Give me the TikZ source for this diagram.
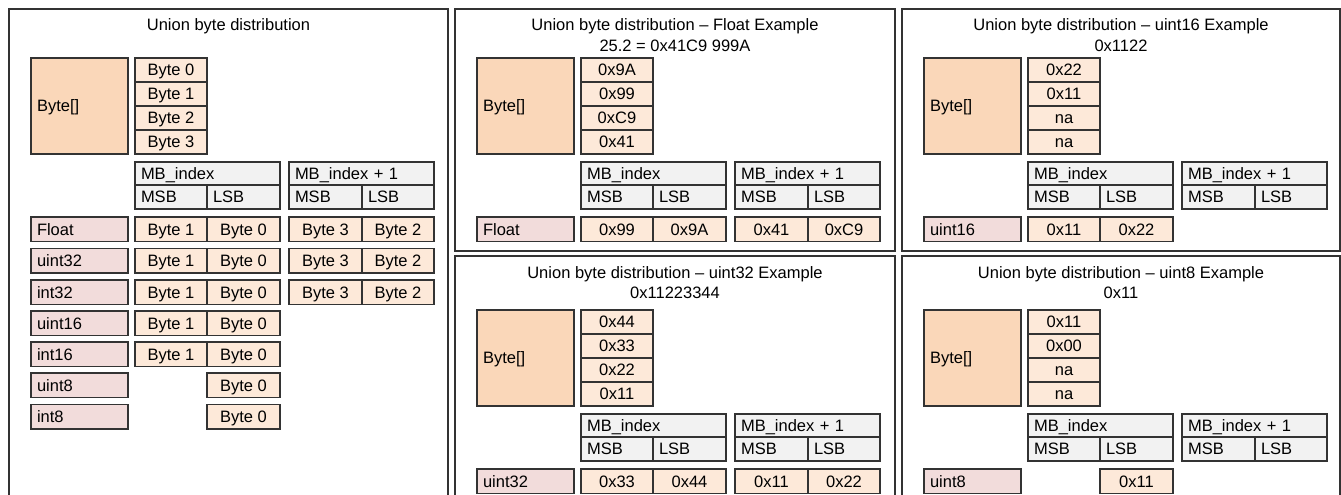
\documentclass[tikz,border=0pt]{standalone}
\usepackage{fontspec}
\setmainfont{Liberation Sans}
\definecolor{bigc}{HTML}{FAD7B9}
\definecolor{cellc}{HTML}{FDE9D9}
\definecolor{labc}{HTML}{F2DCDB}
\definecolor{hdrc}{HTML}{F2F2F2}
\definecolor{linec}{HTML}{333333}
\tikzset{
 every node/.style={font=\fontsize{16.5}{19}\selectfont, inner sep=0pt, outer sep=0pt, text height=11.8pt, text depth=0pt},
 boxbase/.style={draw=linec, line width=1.3pt},
 bigbox/.style={boxbase, fill=bigc},
 valbox/.style={boxbase, fill=cellc},
 labbox/.style={boxbase, fill=labc},
 hdrbox/.style={boxbase, fill=hdrc},
 panelframe/.style={draw=linec, line width=1.1pt},
}
% centered cell: name, x1, y1, x2, y2, style, text
\newcommand{\cb}[7]{%
 \pgfmathsetmacro{\cbw}{#4-#2}\pgfmathsetmacro{\cbh}{#5-#3}%
 \node[#6, minimum width=\cbw pt, minimum height=\cbh pt, anchor=north west] (#1) at (#2,#3) {#7};}
% left aligned cell
\newcommand{\cbl}[7]{%
 \pgfmathsetmacro{\cbw}{#4-#2}\pgfmathsetmacro{\cbh}{#5-#3}\pgfmathsetmacro{\cbt}{#4-#2-12}%
 \node[#6, minimum width=\cbw pt, minimum height=\cbh pt, anchor=north west, inner xsep=6pt, text width=\cbt pt, align=left] (#1) at (#2,#3) {#7};}
% common panel content
\newcommand{\pcontent}[5]{%
 \cbl{#1big}{31}{58}{128}{154}{bigbox}{Byte[]}%
 \cb{#1va}{135}{58}{207}{82}{valbox}{#2}%
 \cb{#1vb}{135}{82}{207}{106}{valbox}{#3}%
 \cb{#1vc}{135}{106}{207}{130}{valbox}{#4}%
 \cb{#1vd}{135}{130}{207}{154}{valbox}{#5}%
 \cbl{#1h}{135}{162}{280}{185}{hdrbox}{MB\_index}%
 \cbl{#1hm}{135}{185}{207}{209}{hdrbox}{MSB}%
 \cbl{#1hl}{207}{185}{280}{209}{hdrbox}{LSB}%
 \cbl{#1k}{289}{162}{434}{185}{hdrbox}{MB\_index + 1}%
 \cbl{#1km}{289}{185}{362}{209}{hdrbox}{MSB}%
 \cbl{#1kl}{362}{185}{434}{209}{hdrbox}{LSB}%
}
% full row: prefix, y1, label, a, b, c, d
\newcommand{\fullrow}[7]{%
 \pgfmathsetmacro{\ry}{#2+24.5}%
 \cbl{#1l}{31}{#2}{128}{\ry}{labbox}{#3}%
 \cb{#1a}{135}{#2}{207}{\ry}{valbox}{#4}%
 \cb{#1b}{207}{#2}{280}{\ry}{valbox}{#5}%
 \cb{#1c}{289}{#2}{362}{\ry}{valbox}{#6}%
 \cb{#1d}{362}{#2}{434}{\ry}{valbox}{#7}%
}
\newcommand{\halfrow}[5]{%
 \pgfmathsetmacro{\ry}{#2+24.5}%
 \cbl{#1l}{31}{#2}{128}{\ry}{labbox}{#3}%
 \cb{#1a}{135}{#2}{207}{\ry}{valbox}{#4}%
 \cb{#1b}{207}{#2}{280}{\ry}{valbox}{#5}%
}
\newcommand{\onerow}[4]{%
 \pgfmathsetmacro{\ry}{#2+24.5}%
 \cbl{#1l}{31}{#2}{128}{\ry}{labbox}{#3}%
 \cb{#1b}{207}{#2}{280}{\ry}{valbox}{#4}%
}
\begin{document}
\begin{tikzpicture}[x=1pt,y=-1pt]
\useasboundingbox (0,0) rectangle (1341,495);
\fill[white] (0,0) rectangle (1341,495);
\clip (0,0) rectangle (1341,495);
% frames
\draw[panelframe] (9,9) rectangle (448,530);
\draw[panelframe] (455,9) rectangle (895,251);
\draw[panelframe] (902,9) rectangle (1340,251);
\draw[panelframe] (455,256) rectangle (895,530);
\draw[panelframe] (902,256) rectangle (1340,530);
% titles
\node (t1) at (228.5,24.5) {Union byte distribution};
\node (t2) at (675,24.5) {Union byte distribution – Float Example};
\node (t2b) at (675,46) {25.2 = 0x41C9 999A};
\node (t3) at (1121,24.5) {Union byte distribution – uint16 Example};
\node (t3b) at (1121,46) {0x1122};
\node (t4) at (675,272.5) {Union byte distribution – uint32 Example};
\node (t4b) at (675,293) {0x11223344};
\node (t5) at (1121,272.5) {Union byte distribution – uint8 Example};
\node (t5b) at (1121,293) {0x11};
% panel 1
\pcontent{A}{Byte 0}{Byte 1}{Byte 2}{Byte 3}
\fullrow{Ar1}{217}{Float}{Byte 1}{Byte 0}{Byte 3}{Byte 2}
\fullrow{Ar2}{248.5}{uint32}{Byte 1}{Byte 0}{Byte 3}{Byte 2}
\fullrow{Ar3}{280}{int32}{Byte 1}{Byte 0}{Byte 3}{Byte 2}
\halfrow{Ar4}{311}{uint16}{Byte 1}{Byte 0}
\halfrow{Ar5}{342}{int16}{Byte 1}{Byte 0}
\onerow{Ar6}{373}{uint8}{Byte 0}
\onerow{Ar7}{404.5}{int8}{Byte 0}
% panel 2
\begin{scope}[shift={(446,0)}]
\pcontent{B}{0x9A}{0x99}{0xC9}{0x41}
\fullrow{Br1}{217}{Float}{0x99}{0x9A}{0x41}{0xC9}
\end{scope}
% panel 3
\begin{scope}[shift={(893,0)}]
\pcontent{C}{0x22}{0x11}{na}{na}
\halfrow{Cr1}{217}{uint16}{0x11}{0x22}
\end{scope}
% panel 4
\begin{scope}[shift={(446,252)}]
\pcontent{D}{0x44}{0x33}{0x22}{0x11}
\fullrow{Dr1}{217}{uint32}{0x33}{0x44}{0x11}{0x22}
\end{scope}
% panel 5
\begin{scope}[shift={(893,252)}]
\pcontent{E}{0x11}{0x00}{na}{na}
\onerow{Er1}{217}{uint8}{0x11}
\end{scope}
\end{tikzpicture}
\end{document}
